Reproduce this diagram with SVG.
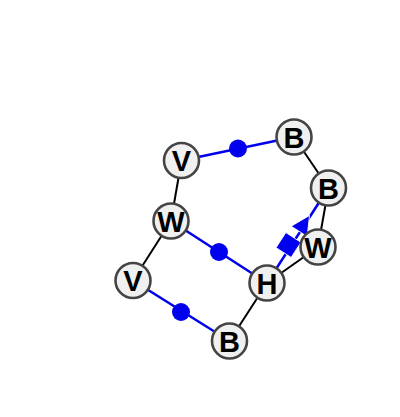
<svg xmlns="http://www.w3.org/2000/svg" width="400" height="417" viewBox="0 0 400 417">
<style>
.n circle{fill:#f0f0f0;stroke:#444;stroke-width:2.6}
.n text{font-family:"Liberation Sans",Arial,sans-serif;font-weight:bold;font-size:29px;fill:#000;text-anchor:middle}
.k{stroke:#000;stroke-width:2;fill:none}
.b{stroke:#0000ee;stroke-width:2.5;fill:none}
.d{fill:#0000ee}
.m{fill:#0000ee;stroke:#fff;stroke-width:0.8}
</style>
<rect width="400" height="417" fill="#fff"/>
<g id="connectors">
<line class="k" x1="181.5" y1="160.5" x2="171" y2="221"/>
<line class="k" x1="171" y1="221" x2="133" y2="280.5"/>
<line class="k" x1="294" y1="137" x2="328.5" y2="188"/>
<line class="k" x1="328.5" y1="188" x2="318" y2="247"/>
<line class="k" x1="318" y1="247" x2="267" y2="283"/>
<line class="k" x1="267" y1="283" x2="229.5" y2="341"/>
<line class="b" x1="181.5" y1="160.5" x2="294" y2="137"/>
<circle class="d" cx="238" cy="148.5" r="9"/>
<line class="b" x1="171" y1="221" x2="267" y2="283"/>
<circle class="d" cx="219" cy="252" r="9"/>
<line class="b" x1="133" y1="280.5" x2="229.5" y2="341"/>
<circle class="d" cx="181" cy="312" r="9"/>
<line class="b" x1="267" y1="283" x2="320" y2="201"/>
<rect class="m" x="-9" y="-9" width="18" height="18" transform="translate(288.5 245) rotate(-57)"/>
<polygon class="m" points="12,0 -7,-9.5 -7,9.5" transform="translate(303 225.5) rotate(-57)"/>
</g>
<g id="V1" class="n"><circle cx="181.5" cy="160.5" r="17.5"/><text x="181.5" y="171">V</text></g>
<g id="B1" class="n"><circle cx="294" cy="137" r="17.5"/><text x="294" y="147.5">B</text></g>
<g id="B2" class="n"><circle cx="328.5" cy="188" r="17.5"/><text x="328.5" y="198.5">B</text></g>
<g id="W1" class="n"><circle cx="171" cy="221" r="17.5"/><text x="171" y="231.5">W</text></g>
<g id="W2" class="n"><circle cx="318" cy="247" r="17.5"/><text x="318" y="257.5">W</text></g>
<g id="V2" class="n"><circle cx="133" cy="280.5" r="17.5"/><text x="133" y="291">V</text></g>
<g id="H" class="n"><circle cx="267" cy="283" r="17.5"/><text x="267" y="293.5">H</text></g>
<g id="B3" class="n"><circle cx="229.5" cy="341" r="17.5"/><text x="229.5" y="351.5">B</text></g>
</svg>
